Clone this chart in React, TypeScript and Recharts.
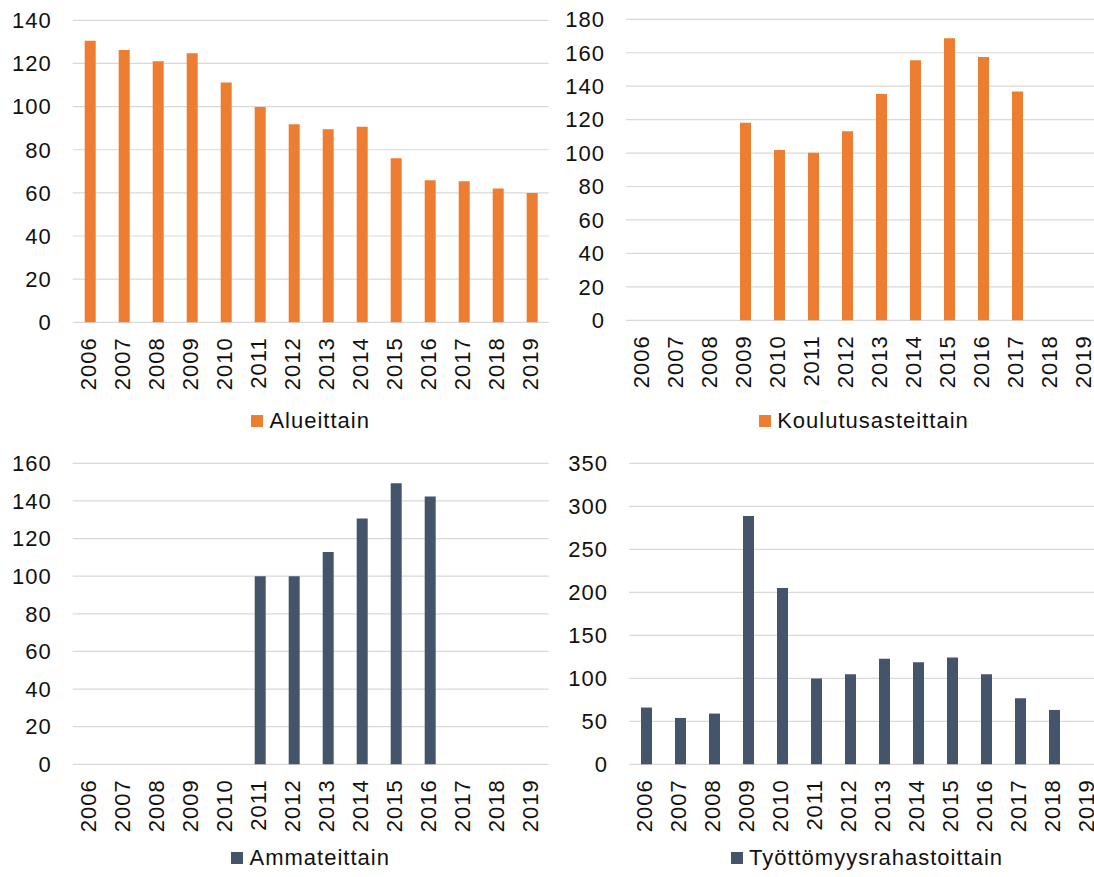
import React from "react";
import { BarChart, Bar, XAxis, YAxis, CartesianGrid, Legend } from "recharts";

// Years on the category axis
const years = [
  "2006", "2007", "2008", "2009", "2010", "2011", "2012",
  "2013", "2014", "2015", "2016", "2017", "2018", "2019",
];

// Index series, one per breakdown (null = no value for that year)
const alueittain = [130.5, 126.2, 121, 124.7, 111.2, 99.8, 91.8, 89.5, 90.6, 76, 65.8, 65.4, 62, 59.9];
const koulutusasteittain = [null, null, null, 118.1, 101.9, 100.2, 113.1, 135.4, 155.5, 168.6, 157.5, 136.8, null, null];
const ammateittain = [null, null, null, null, null, 100, 100, 112.8, 130.7, 149.4, 142.4, null, null, null];
const tyottomyysrahastoittain = [66, 53.9, 59, 288.7, 204.9, 99.7, 104.8, 122.6, 118.7, 124.2, 104.8, 76.8, 63.2, null];

// Value axis ticks per panel
const ticks140 = [0, 20, 40, 60, 80, 100, 120, 140];
const ticks180 = [0, 20, 40, 60, 80, 100, 120, 140, 160, 180];
const ticks160 = [0, 20, 40, 60, 80, 100, 120, 140, 160];
const ticks350 = [0, 50, 100, 150, 200, 250, 300, 350];

const ORANGE = "#ED7D31";
const NAVY = "#44546A";
const GRID = "#D9D9D9";
const TEXT = "#111111";
const FONT = "'Liberation Sans', Arial, sans-serif";

const buildRows = (values: (number | null)[]) =>
  years.map((year, i) => ({ year, value: values[i] }));

const YearTick = (props: any) => {
  const { x, y, payload } = props;
  const tx = x + 6;
  return (
    <text
      x={tx}
      y={y}
      transform={`rotate(-90 ${tx} ${y})`}
      textAnchor="end"
      fontSize={22}
      letterSpacing={1}
      fill={TEXT}
      fontFamily={FONT}
    >
      {payload.value}
    </text>
  );
};

const ValueTick = (props: any) => {
  const { x, y, payload } = props;
  return (
    <text
      x={x}
      y={y}
      dy="0.355em"
      textAnchor="end"
      fontSize={22}
      letterSpacing={1}
      fill={TEXT}
      fontFamily={FONT}
    >
      {payload.value}
    </text>
  );
};

type PanelProps = {
  left: number;
  top: number;
  width: number;
  height: number;
  margin: { top: number; right: number; bottom: number; left: number };
  axisWidth: number;
  values: (number | null)[];
  ticks: number[];
  color: string;
  name: string;
  legendTop: number;
};

const Panel = ({
  left, top, width, height, margin, axisWidth, values, ticks, color, name, legendTop,
}: PanelProps) => {
  const plotLeft = margin.left + axisWidth;
  const plotWidth = width - plotLeft - margin.right;
  const renderLegend = () => (
    <div
      style={{
        position: "relative",
        marginLeft: plotLeft,
        width: plotWidth,
        height: 30,
        display: "flex",
        alignItems: "center",
        justifyContent: "center",
      }}
    >
      <span
        style={{
          display: "inline-block",
          width: 12,
          height: 12,
          background: color,
          marginRight: 6,
        }}
      />
      <span
        style={{
          fontFamily: FONT,
          fontSize: 22,
          letterSpacing: 1,
          lineHeight: "22px",
          color: TEXT,
          whiteSpace: "nowrap",
        }}
      >
        {name}
      </span>
    </div>
  );
  return (
    <div style={{ position: "absolute", left, top, width, height }}>
      <BarChart width={width} height={height} data={buildRows(values)} margin={margin}>
        <CartesianGrid vertical={false} stroke={GRID} strokeWidth={1.2} />
        <XAxis
          dataKey="year"
          interval={0}
          axisLine={false}
          tickLine={false}
          tickSize={0}
          tickMargin={15}
          height={80}
          tick={<YearTick />}
        />
        <YAxis
          domain={[ticks[0], ticks[ticks.length - 1]]}
          ticks={ticks}
          interval={0}
          axisLine={false}
          tickLine={false}
          tickSize={0}
          tickMargin={21}
          width={axisWidth}
          tick={<ValueTick />}
        />
        <Legend
          layout="horizontal"
          align="center"
          verticalAlign="middle"
          wrapperStyle={{ left: 0, top: legendTop, width, height: 30 }}
          content={renderLegend}
        />
        <Bar dataKey="value" name={name} fill={color} barSize={11} isAnimationActive={false} />
      </BarChart>
    </div>
  );
};

export default function App() {
  return (
    <div
      style={{
        position: "fixed",
        left: 0,
        top: 0,
        width: 1094,
        height: 877,
        overflow: "hidden",
        background: "#ffffff",
      }}
    >
      <Panel
        left={0}
        top={0}
        width={560}
        height={440}
        margin={{ top: 20.3, right: 11.3, bottom: 37.7, left: 0 }}
        axisWidth={72.7}
        values={alueittain}
        ticks={ticks140}
        color={ORANGE}
        name="Alueittain"
        legendTop={406}
      />
      <Panel
        left={547}
        top={0}
        width={565}
        height={440}
        margin={{ top: 19.3, right: 10, bottom: 39.7, left: 0 }}
        axisWidth={79}
        values={koulutusasteittain}
        ticks={ticks180}
        color={ORANGE}
        name="Koulutusasteittain"
        legendTop={406}
      />
      <Panel
        left={0}
        top={440}
        width={560}
        height={437}
        margin={{ top: 23.3, right: 11.3, bottom: 32.7, left: 0 }}
        axisWidth={72.7}
        values={ammateittain}
        ticks={ticks160}
        color={NAVY}
        name="Ammateittain"
        legendTop={403}
      />
      <Panel
        left={547}
        top={440}
        width={565}
        height={437}
        margin={{ top: 23.3, right: 7, bottom: 32.7, left: 0 }}
        axisWidth={82}
        values={tyottomyysrahastoittain}
        ticks={ticks350}
        color={NAVY}
        name="Työttömyysrahastoittain"
        legendTop={403}
      />
    </div>
  );
}
